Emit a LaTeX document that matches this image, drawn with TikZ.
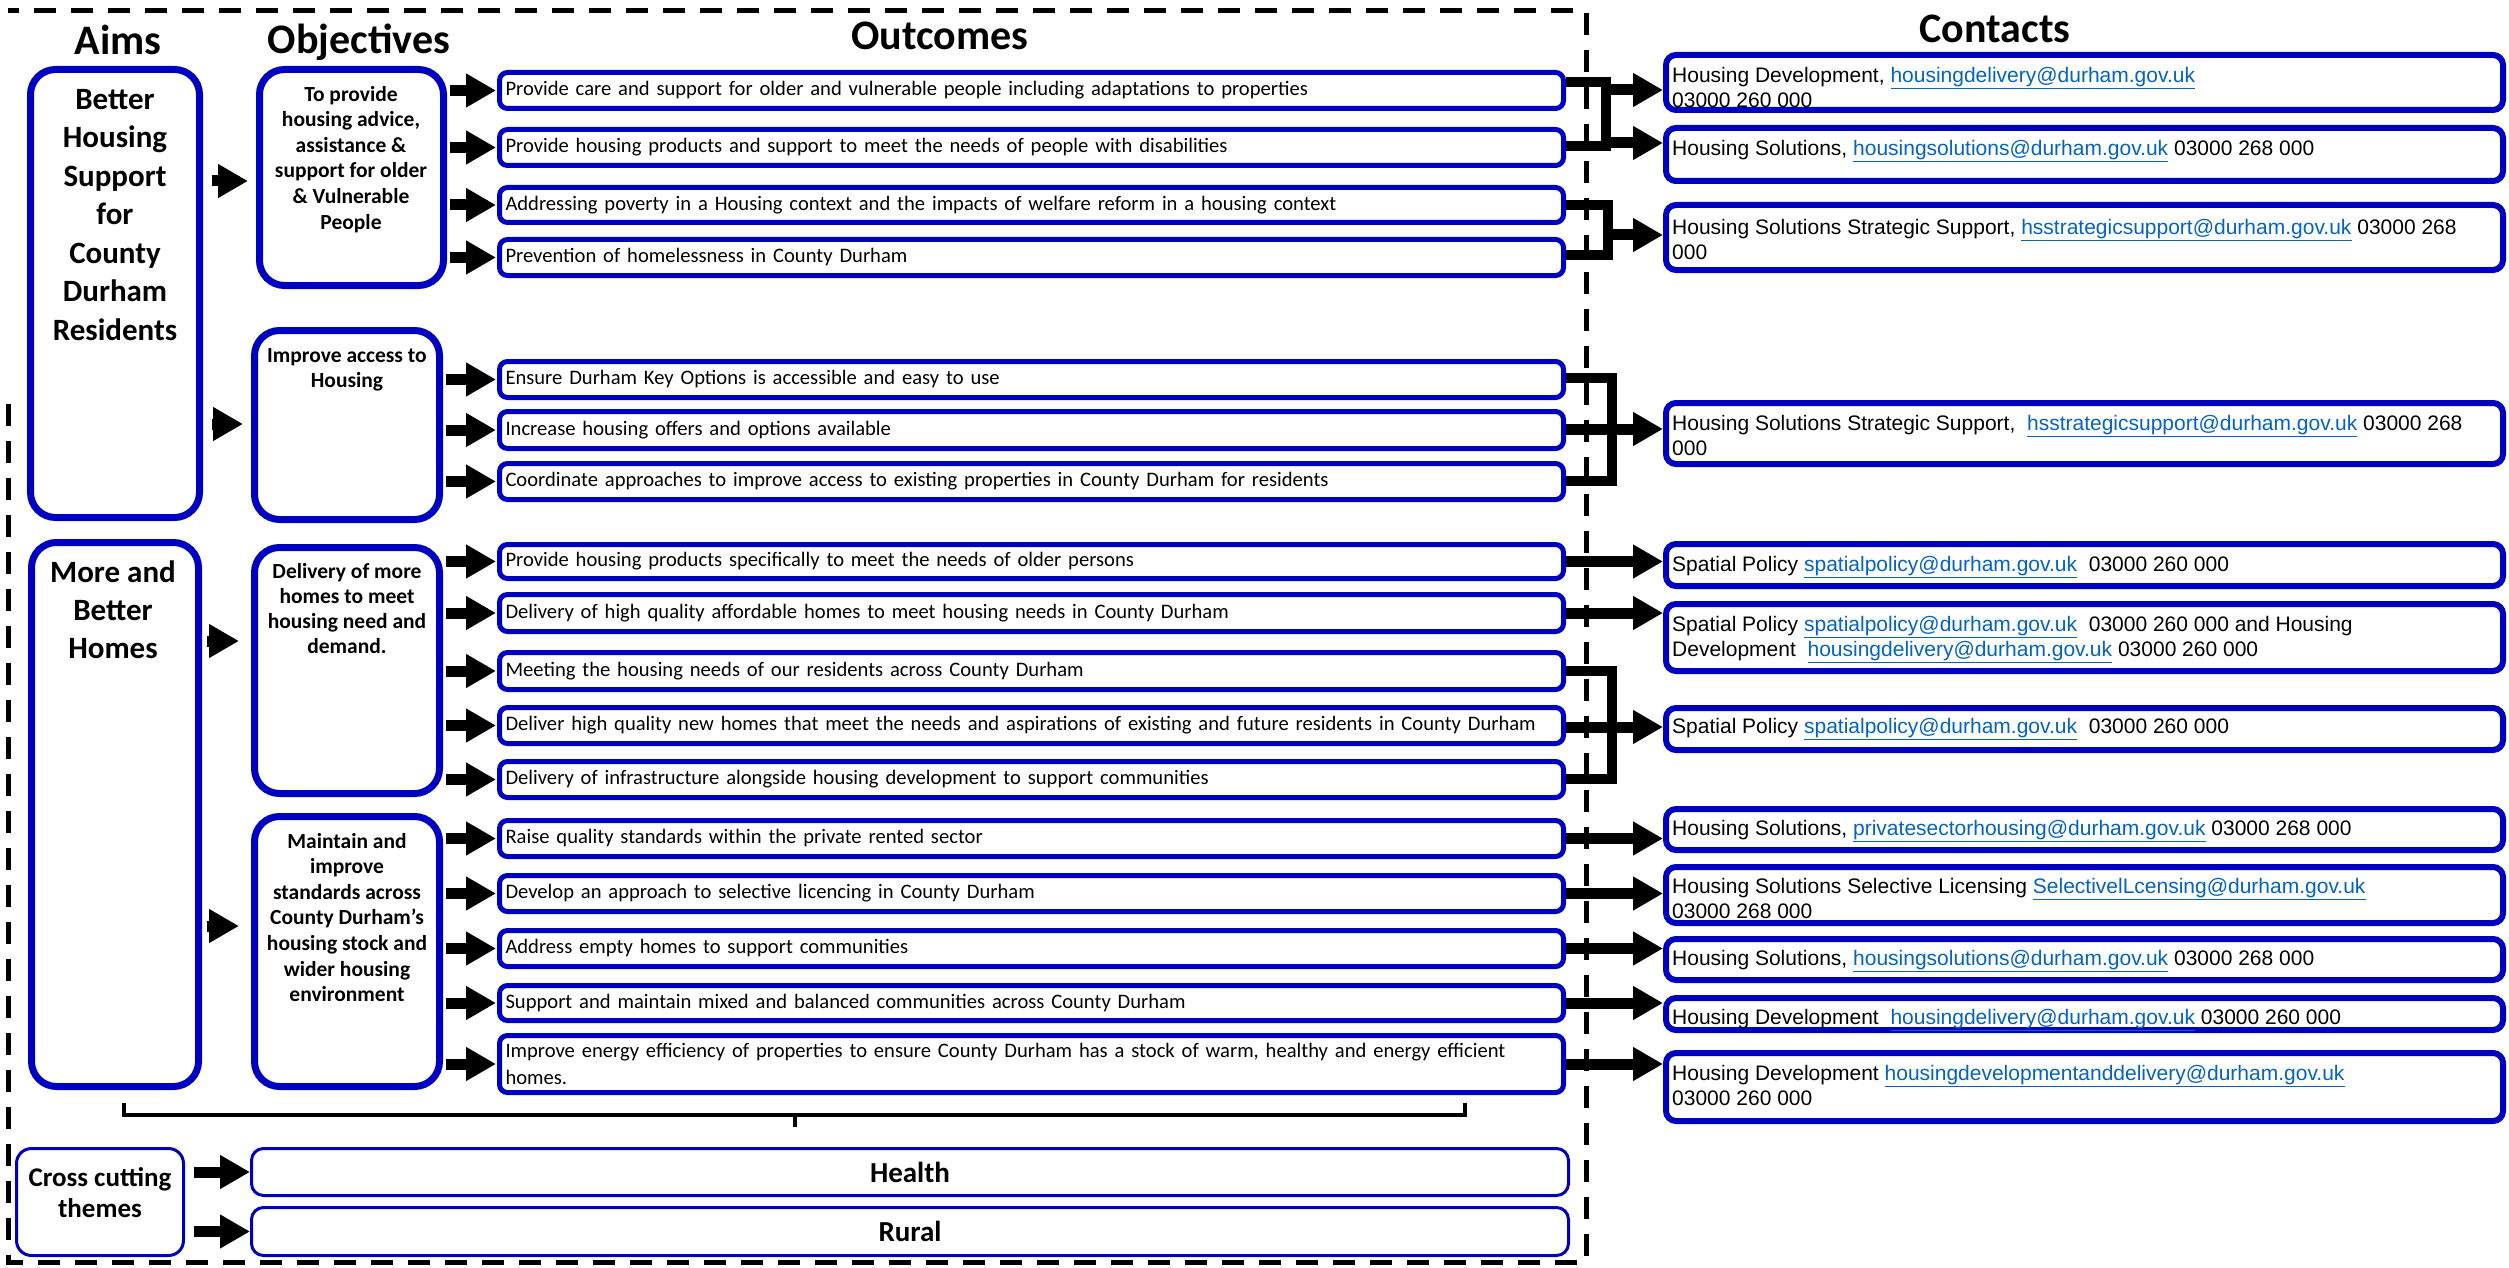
\documentclass[tikz,border=0pt]{standalone}
\usepackage{fontspec}
\setmainfont{Carlito}
\newfontfamily\arialf{Liberation Sans}
\usetikzlibrary{arrows.meta,calc}
\definecolor{boxblue}{RGB}{0,0,192}
\definecolor{linkblue}{RGB}{5,99,193}
\newcommand\lnk[1]{\textcolor{linkblue}{\underline{#1}}}
\newcommand\ttlF{\bfseries\fontsize{42}{50}\selectfont}
\newcommand\aimF{\bfseries\fontsize{31}{38.5}\selectfont}
\newcommand\aimFb{\bfseries\fontsize{31}{38}\selectfont}
\newcommand\objF{\bfseries\fontsize{21.5}{25.6}\selectfont}
\newcommand\objFb{\bfseries\fontsize{21.5}{25}\selectfont}
\newcommand\outF{\fontsize{20.6}{27}\selectfont}
\newcommand\conF{\arialf\fontsize{21}{25}\selectfont}
\newcommand\themeF{\bfseries\fontsize{29}{34}\selectfont}
\newcommand\crossF{\bfseries\fontsize{27}{31}\selectfont}
\begin{document}
\begin{tikzpicture}[x=1pt,y=-1pt,
  aimbox/.style={draw=boxblue, line width=7pt, rounded corners=25pt, fill=white, inner sep=0pt},
  obox/.style={draw=boxblue, line width=5pt, rounded corners=8pt, fill=white, minimum width=1064pt, text width=1052pt, inner xsep=6pt, inner ysep=0pt, align=left, font=\outF},
  cbox/.style={draw=boxblue, line width=6pt, rounded corners=10pt, fill=white, minimum width=837pt, inner sep=0pt},
  ctext/.style={anchor=north west, inner sep=0pt, align=left, font=\conF},
  thinbox/.style={draw=boxblue, line width=3pt, rounded corners=12pt, fill=white, inner sep=0pt},
  arr/.style={line width=11pt, -{Triangle[length=30pt,width=32pt]}},
  conn/.style={line width=10pt, line join=miter},
  dframe/.style={line width=5pt, dash pattern=on 22pt off 15pt},
  bracel/.style={line width=3.5pt},
  ttl/.style={anchor=base, inner sep=0pt, font=\ttlF},
  btext/.style={anchor=north, inner sep=0pt, align=center}
]
\useasboundingbox (0,0) rectangle (2509,1268);

% dashed frame
\coordinate (fA) at (8,404);
\coordinate (fB) at (8,1262);
\coordinate (fC) at (1586,1262);
\coordinate (fD) at (1586,11);
\coordinate (fE) at (8,11);
\draw[dframe] (fA) -- (fB) -- (fC) -- (fD) -- (fE);

% titles
\node[ttl] (tAims) at (118,55) {Aims};
\node[ttl] (tObj) at (359,54) {Objectives};
\node[ttl] (tOut) at (940,50) {Outcomes};
\node[ttl] (tCon) at (1995,43) {Contacts};

% aims
\node[aimbox, minimum width=169pt, minimum height=448pt] (aim1) at (115,293.5) {};
\node[aimbox, minimum width=167pt, minimum height=544pt] (aim2) at (115,814.5) {};
\node[btext, font=\aimF] (aim1t) at (115,82) {\strut Better\\Housing\\Support\\for\\County\\Durham\\Residents};
\node[btext, font=\aimFb] (aim2t) at (113,555.4) {\strut More and\\Better\\Homes};

% objectives
\node[aimbox, minimum width=184pt, minimum height=216pt] (obj1) at (351.5,177.5) {};
\node[aimbox, minimum width=185pt, minimum height=189pt] (obj2) at (347,425) {};
\node[aimbox, minimum width=185pt, minimum height=246pt] (obj3) at (347,670.5) {};
\node[aimbox, minimum width=185pt, minimum height=270pt] (obj4) at (347,951.5) {};
\node[btext, font=\objF] (obj1t) at (351,83) {\strut To provide\\housing advice,\\assistance \&\\support for older\\\& Vulnerable\\People};
\node[btext, font=\objFb] (obj2t) at (347,344.6) {\strut Improve access to\\Housing};
\node[btext, font=\objFb] (obj3t) at (347,560.5) {\strut Delivery of more\\homes to meet\\housing need and\\demand.};
\node[btext, font=\objF] (obj4t) at (347,830) {\strut Maintain and\\improve\\standards across\\County Durham’s\\housing stock and\\wider housing\\environment};

% outcomes
\node[obox, minimum height=36pt] (o1) at (1031.5,90.5) {Provide care and support for older and vulnerable people including adaptations to properties};
\node[obox, minimum height=36pt] (o2) at (1031.5,147.5) {Provide housing products and support to meet the needs of people with disabilities};
\node[obox, minimum height=35pt] (o3) at (1031.5,205) {Addressing poverty in a Housing context and the impacts of welfare reform in a housing context};
\node[obox, minimum height=36pt] (o4) at (1031.5,257.5) {Prevention of homelessness in County Durham};
\node[obox, minimum height=36pt] (o5) at (1031.5,379.5) {Ensure Durham Key Options is accessible and easy to use};
\node[obox, minimum height=37pt] (o6) at (1031.5,430) {Increase housing offers and options available};
\node[obox, minimum height=36pt] (o7) at (1031.5,481.5) {Coordinate approaches to improve access to existing properties in County Durham for residents};
\node[obox, minimum height=34pt] (o8) at (1031.5,561.5) {Provide housing products specifically to meet the needs of older persons};
\node[obox, minimum height=37pt] (o9) at (1031.5,613) {Delivery of high quality affordable homes to meet housing needs in County Durham};
\node[obox, minimum height=37pt] (o10) at (1031.5,671) {Meeting the housing needs of our residents across County Durham};
\node[obox, minimum height=36pt] (o11) at (1031.5,725.5) {Deliver high quality new homes that meet the needs and aspirations of existing and future residents in County Durham};
\node[obox, minimum height=36pt] (o12) at (1031.5,779.5) {Delivery of infrastructure alongside housing development to support communities};
\node[obox, minimum height=36pt] (o13) at (1031.5,838.5) {Raise quality standards within the private rented sector};
\node[obox, minimum height=36pt] (o14) at (1031.5,893.5) {Develop an approach to selective licencing in County Durham};
\node[obox, minimum height=36pt] (o15) at (1031.5,948.5) {Address empty homes to support communities};
\node[obox, minimum height=35pt] (o16) at (1031.5,1003) {Support and maintain mixed and balanced communities across County Durham};
\node[obox, minimum height=57pt] (o17) at (1031.5,1064) {Improve energy efficiency of properties to ensure County Durham has a stock of warm, healthy and energy efficient\\homes.};

% contacts
\node[cbox, minimum height=55pt] (c1) at (2084.5,82.5) {};
\node[cbox, minimum height=53pt] (c2) at (2084.5,154.5) {};
\node[cbox, minimum height=65pt] (c3) at (2084.5,237.5) {};
\node[cbox, minimum height=61pt] (c4) at (2084.5,433.5) {};
\node[cbox, minimum height=42pt] (c5) at (2084.5,565) {};
\node[cbox, minimum height=67pt] (c6) at (2084.5,637.5) {};
\node[cbox, minimum height=42pt] (c7) at (2084.5,729) {};
\node[cbox, minimum height=41pt] (c8) at (2084.5,829.5) {};
\node[cbox, minimum height=56pt] (c9) at (2084.5,895) {};
\node[cbox, minimum height=41pt] (c10) at (2084.5,959.5) {};
\node[cbox, minimum height=32pt] (c11) at (2084.5,1014) {};
\node[cbox, minimum height=68pt] (c12) at (2084.5,1087) {};

\node[ctext] (ct1) at (1672,65) {\strut Housing Development, \lnk{housingdelivery@durham.gov.uk}\\03000 260 000};
\node[ctext] (ct2) at (1672,138) {\strut Housing Solutions, \lnk{housingsolutions@durham.gov.uk} 03000 268 000};
\node[ctext] (ct3) at (1672,217) {\strut Housing Solutions Strategic Support, \lnk{hsstrategicsupport@durham.gov.uk} 03000 268\\000};
\node[ctext] (ct4) at (1672,413) {\strut Housing Solutions Strategic Support,~ \lnk{hsstrategicsupport@durham.gov.uk} 03000 268\\000};
\node[ctext] (ct5) at (1672,554) {\strut Spatial Policy \lnk{spatialpolicy@durham.gov.uk}~ 03000 260 000};
\node[ctext] (ct6) at (1672,614) {\strut Spatial Policy \lnk{spatialpolicy@durham.gov.uk}~ 03000 260 000 and Housing\\Development~ \lnk{housingdelivery@durham.gov.uk} 03000 260 000};
\node[ctext] (ct7) at (1672,716) {\strut Spatial Policy \lnk{spatialpolicy@durham.gov.uk}~ 03000 260 000};
\node[ctext] (ct8) at (1672,818) {\strut Housing Solutions, \lnk{privatesectorhousing@durham.gov.uk} 03000 268 000};
\node[ctext] (ct9) at (1672,876) {\strut Housing Solutions Selective Licensing \lnk{SelectivelLcensing@durham.gov.uk}\\03000 268 000};
\node[ctext] (ct10) at (1672,948) {\strut Housing Solutions, \lnk{housingsolutions@durham.gov.uk} 03000 268 000};
\node[ctext] (ct11) at (1672,1007) {\strut Housing Development~ \lnk{housingdelivery@durham.gov.uk} 03000 260 000};
\node[ctext] (ct12) at (1672,1063) {\strut Housing Development \lnk{housingdevelopmentanddelivery@durham.gov.uk}\\03000 260 000};

% cross cutting themes
\node[thinbox, minimum width=167pt, minimum height=107pt, rounded corners=15pt] (cross) at (100,1202) {};
\node[btext, font=\crossF] (crosst) at (100,1165) {\strut Cross cutting\\themes};
\node[thinbox, minimum width=1317pt, minimum height=47pt, font=\themeF] (health) at (910,1172) {Health};
\node[thinbox, minimum width=1317pt, minimum height=48pt, font=\themeF] (rural) at (910,1231.5) {Rural};

% brace
\coordinate (brL) at (124,1103);
\coordinate (brR) at (1465,1103);
\coordinate (brM) at (795,1115);
\coordinate (brT) at (795,1127);
\draw[bracel] (brL) |- (brM) -| (brR);
\draw[bracel] (brM) -- (brT);

% aim -> objective arrows
\draw[arr, shorten <=9pt, shorten >=8pt] (aim1.east |- 0,181) -- (obj1.west |- 0,181);
\draw[arr, shorten <=9pt, shorten >=8pt] (aim1.east |- 0,424) -- (obj2.west |- 0,424);
\draw[arr, shorten <=5pt, shorten >=12pt] (aim2.east |- 0,641) -- (obj3.west |- 0,641);
\draw[arr, shorten <=5pt, shorten >=12pt] (aim2.east |- 0,926) -- (obj4.west |- 0,926);

% objective -> outcome arrows
\foreach \o/\b in {o1/obj1,o2/obj1,o3/obj1,o4/obj1,o5/obj2,o6/obj2,o7/obj2,o8/obj3,o9/obj3,o10/obj3,o11/obj3,o12/obj3,o13/obj4,o14/obj4,o15/obj4,o16/obj4,o17/obj4}
  \draw[arr, shorten <=3pt, shorten >=1pt] (\b.east |- \o.west) -- (\o.west);

% outcome -> contact connectors
\coordinate (gA1) at (1606,82);
\coordinate (gA2) at (1606,146);
\coordinate (gA3) at (1606,90);
\coordinate (gA4) at (1606,143);
\draw[conn] (o1.east |- gA1) -- (gA1) -- (gA2) -- (o2.east |- gA2);
\draw[arr] (gA3) -- (c1.west |- gA3);
\draw[arr] (gA4) -- (c2.west |- gA4);

\coordinate (gB1) at (1608,205);
\coordinate (gB2) at (1608,255);
\coordinate (gB3) at (1608,235);
\draw[conn] (o3.east |- gB1) -- (gB1) -- (gB2) -- (o4.east |- gB2);
\draw[arr] (gB3) -- (c3.west |- gB3);

\coordinate (gC1) at (1612,378);
\coordinate (gC2) at (1612,481);
\coordinate (gC3) at (1612,429);
\draw[conn] (o5.east |- gC1) -- (gC1) -- (gC2) -- (o7.east |- gC2);
\draw[arr] (o6.east |- gC3) -- (c4.west |- gC3);

\coordinate (gD1) at (1612,671);
\coordinate (gD2) at (1612,779);
\coordinate (gD3) at (1612,727);
\draw[conn] (o10.east |- gD1) -- (gD1) -- (gD2) -- (o12.east |- gD2);
\draw[arr] (o11.east |- gD3) -- (c7.west |- gD3);

\foreach \o/\c in {o8/c5,o9/c6,o13/c8,o14/c9,o15/c10,o16/c11,o17/c12}
  \draw[arr] (\o.east) -- (\c.west |- \o.east);

% cross cutting arrows
\draw[arr, shorten <=9pt] (cross.east |- health.west) -- (health.west);
\draw[arr, shorten <=9pt] (cross.east |- rural.west) -- (rural.west);
\end{tikzpicture}
\end{document}
